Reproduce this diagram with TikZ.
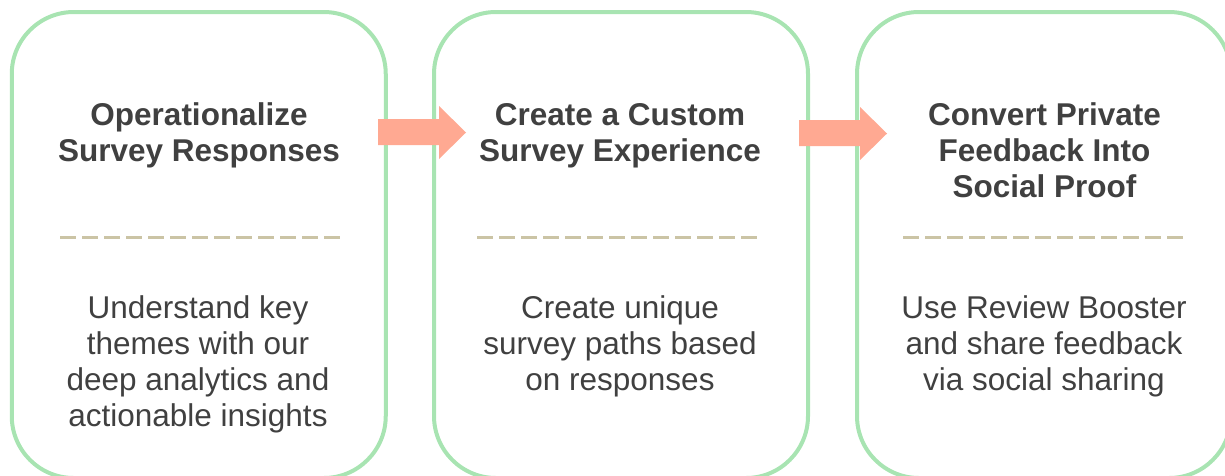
\documentclass[tikz,border=0pt]{standalone}
\usepackage{fontspec}
\setmainfont{Liberation Sans}
\usetikzlibrary{calc}
\definecolor{stageline}{RGB}{168,228,178}
\definecolor{flowarrow}{RGB}{255,169,146}
\definecolor{rulecolor}{RGB}{203,196,165}
\definecolor{inkgray}{RGB}{64,64,64}
% zero-width rule fixing the height of the first text line
\newcommand{\firstline}{\rule{0pt}{25pt}}

\begin{document}
\begin{tikzpicture}[x=1pt,y=-1pt,
  stagebox/.style={draw=stageline, line width=4pt, rounded corners=62pt,
    minimum width=374pt, minimum height=466pt, inner sep=0pt, outer sep=0pt},
  stagetitle/.style={anchor=north, inner sep=0pt, align=center, text=inkgray,
    font=\fontsize{31.5}{36}\selectfont\bfseries},
  stagebody/.style={anchor=north, inner sep=0pt, align=center, text=inkgray,
    font=\fontsize{31.5}{36}\selectfont},
  divider/.style={draw=rulecolor, line width=3pt, dash pattern=on 16pt off 6pt},
  flow/.style={fill=flowarrow, draw=none}]
\useasboundingbox (0,0) rectangle (1225,475);

% three stage panels
\node[stagebox] (b1) at (198.75,245) {};
\node[stagebox] (b2) at (621,245) {};
\node[stagebox] (b3) at (1044,245) {};

% block arrows between the panels
\fill[flow] (378,119) -- (439,119) -- (439,106) -- (466,132.5) -- (439,159)
  -- (439,145) -- (378,145) -- cycle;
\fill[flow] (799,120) -- (860,120) -- (860,107) -- (887,133.5) -- (860,160)
  -- (860,146) -- (799,146) -- cycle;

% headings
\node[stagetitle] (t1) at (199,100) {\firstline Operationalize\\Survey Responses};
\node[stagetitle] (t2) at (620,100) {\firstline Create a Custom\\Survey Experience};
\node[stagetitle] (t3) at (1044.5,100) {\firstline Convert Private\\Feedback Into\\Social Proof};

% dashed separators
\coordinate (d1a) at (60,237.5);  \coordinate (d1b) at (340,237.5);
\coordinate (d2a) at (477,237.5); \coordinate (d2b) at (757,237.5);
\coordinate (d3a) at (903,237.5); \coordinate (d3b) at (1183,237.5);
\draw[divider] (d1a) -- (d1b);
\draw[divider] (d2a) -- (d2b);
\draw[divider] (d3a) -- (d3b);

% descriptions
\node[stagebody] (s1) at (198,293) {\firstline Understand key\\themes with our\\deep analytics and\\actionable insights};
\node[stagebody] (s2) at (620,293) {\firstline Create unique\\survey paths based\\on responses};
\node[stagebody] (s3) at (1044,293) {\firstline Use Review Booster\\and share feedback\\via social sharing};
\end{tikzpicture}
\end{document}
